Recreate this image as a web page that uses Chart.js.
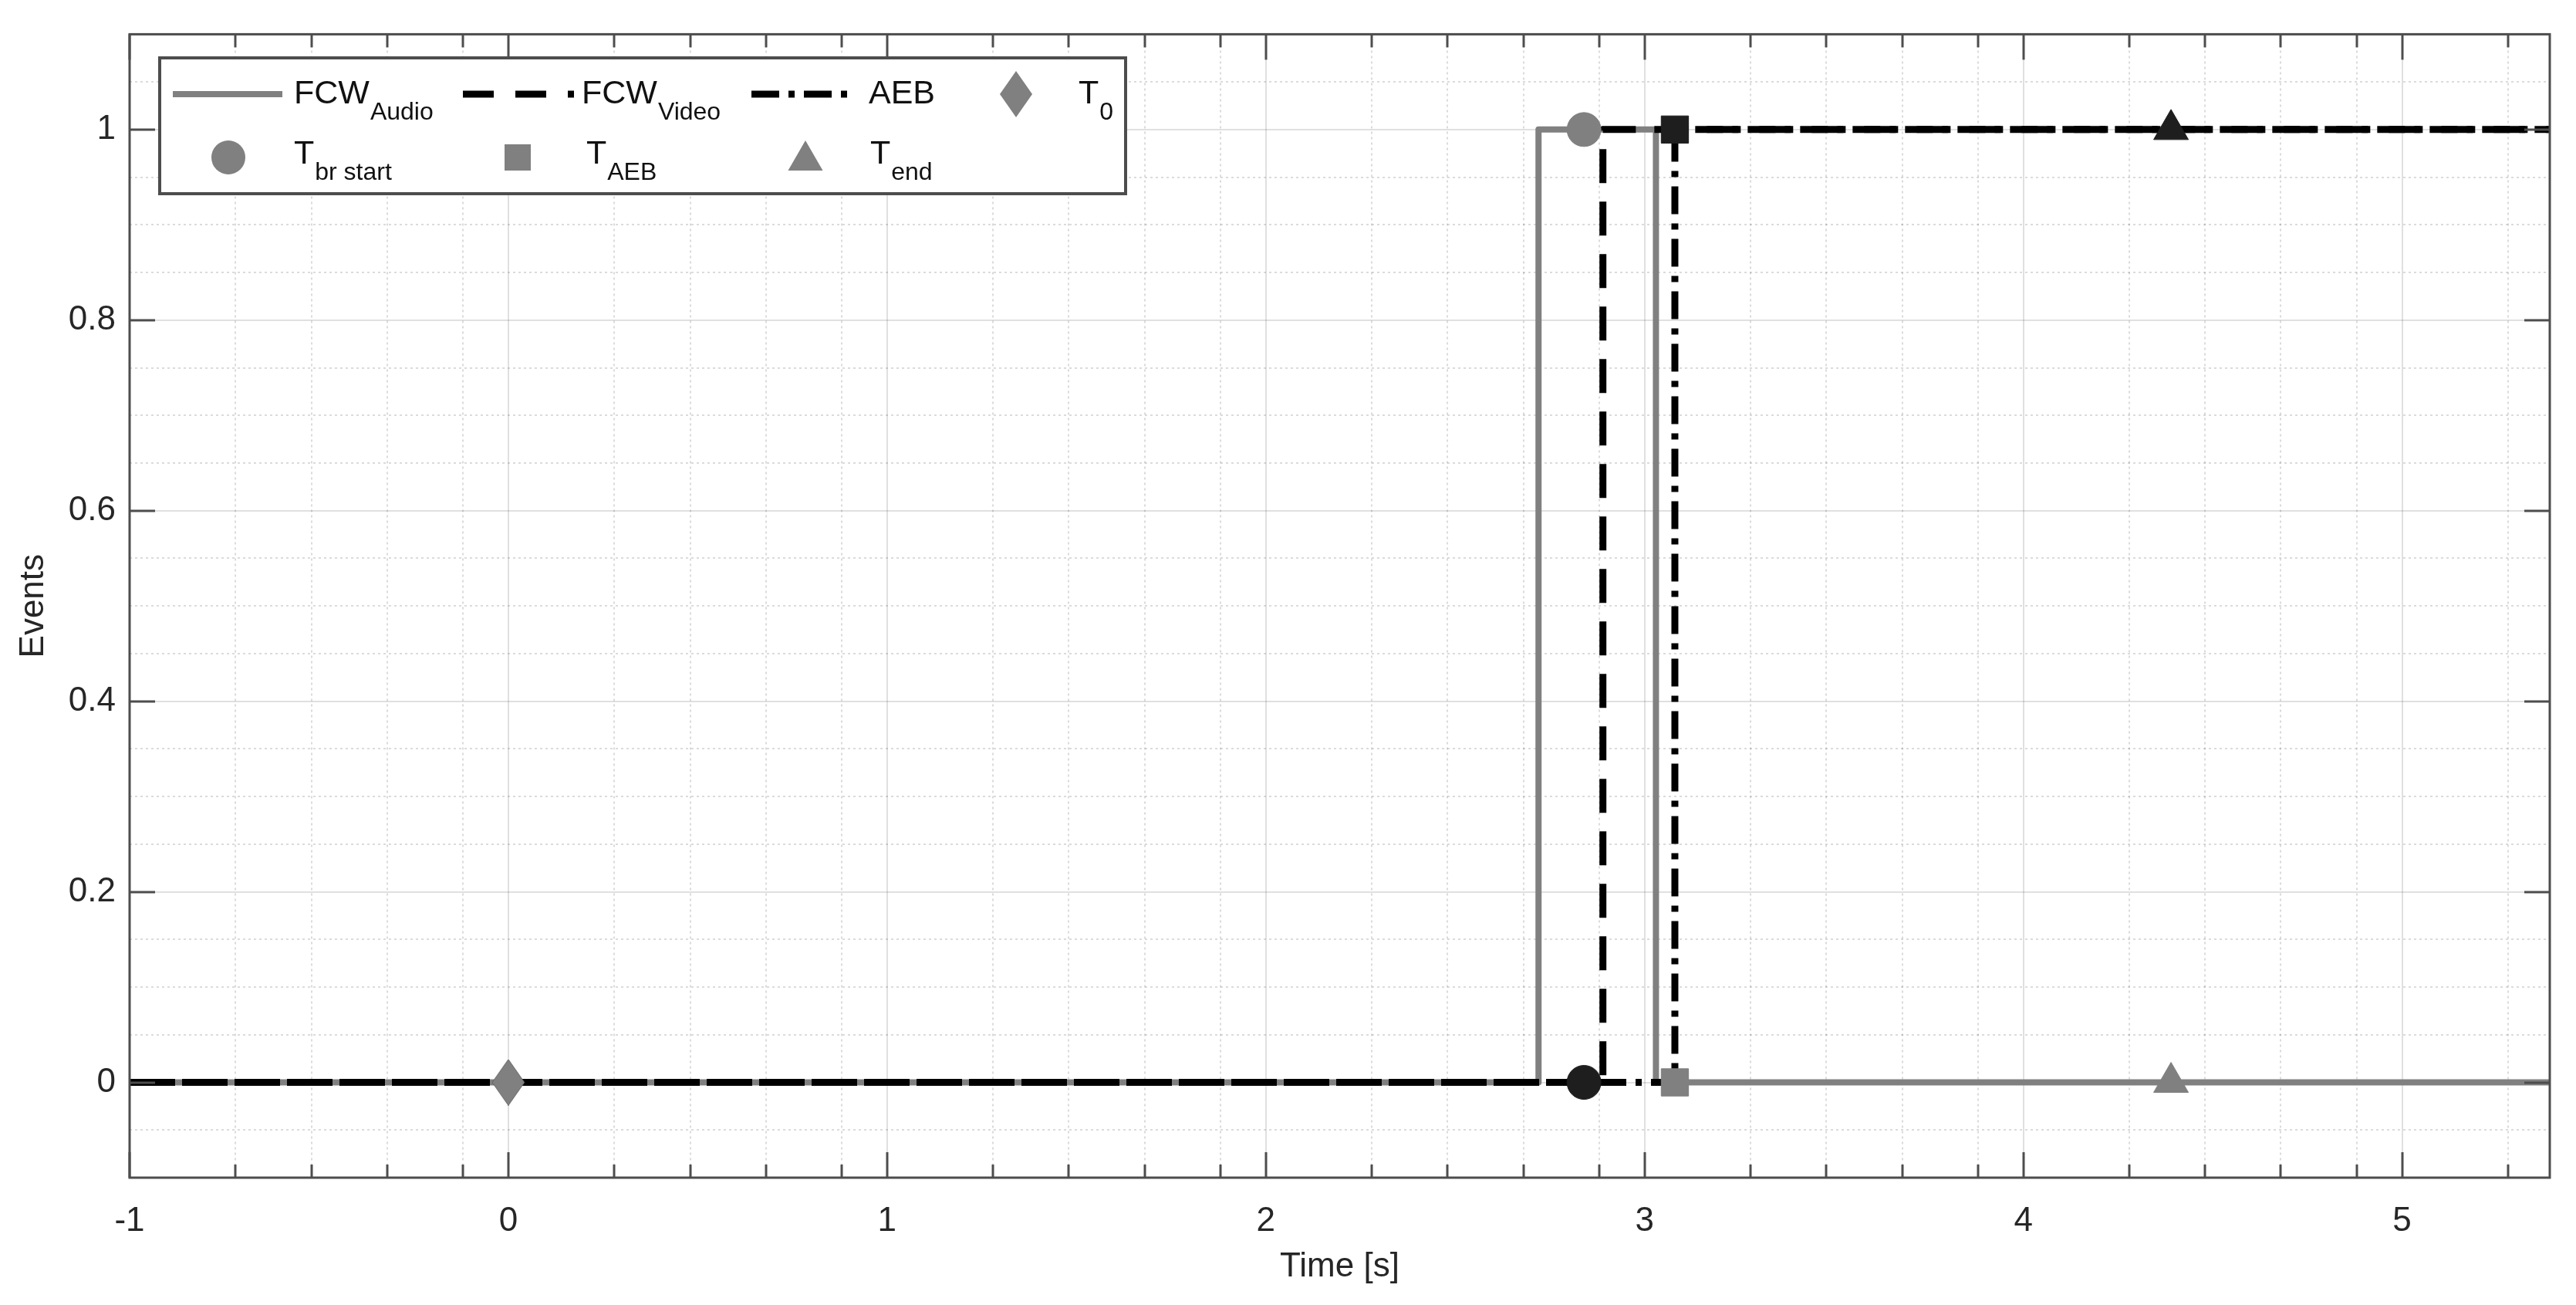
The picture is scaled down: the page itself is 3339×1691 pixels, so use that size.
<!DOCTYPE html>
<html>
<head>
<meta charset="utf-8">
<title>Events</title>
<script src="https://cdn.jsdelivr.net/npm/chart.js@4.4.0/dist/chart.umd.min.js"></script>
<style>
  html, body { margin: 0; padding: 0; background: #fff; }
  #chart { display: block; }
</style>
</head>
<body>
<canvas id="chart" width="3339" height="1691" style="width:3339px;height:1691px"></canvas>
<script>
// axes
const xMin = -1;
const xMax = 5.39;
const yMin = -0.1;
const yMax = 1.1;
const xTickValues = [-1, 0, 1, 2, 3, 4, 5];
const xTickLabels = ["-1", "0", "1", "2", "3", "4", "5"];
const yTickValues = [0, 0.2, 0.4, 0.6, 0.8, 1];
const yTickLabels = ["0", "0.2", "0.4", "0.6", "0.8", "1"];

// signals (time of each change, value after it)
const audioTimes = [-1, 2.72, 3.03, 5.39];
const audioValues = [0, 1, 0, 0];
const videoTimes = [-1, 2.89, 5.39];
const videoValues = [0, 1, 1];
const aebTimes = [-1, 3.08, 5.39];
const aebValues = [0, 1, 1];

// events
const eventTimes = [0, 2.84, 3.08, 4.39];
const eventOnAudio = [0, 1, 0, 0];
const eventOnVideo = [0, 0, 1, 1];

// legend texts
const legendMain = ["FCW", "FCW", "AEB", "T", "T", "T", "T"];
const legendSub = ["Audio", "Video", "", "0", "br start", "AEB", "end"];

const GRAY = "#808080";
const DARK = "#1e1e1e";
const FONT = "'Liberation Sans', Arial, Helvetica, sans-serif";

Chart.defaults.font.family = FONT;

function makeDiamond(color) {
  const c = document.createElement("canvas");
  c.width = 42;
  c.height = 60;
  const g = c.getContext("2d");
  g.fillStyle = color;
  g.beginPath();
  g.moveTo(21, 0);
  g.lineTo(42, 30);
  g.lineTo(21, 60);
  g.lineTo(0, 30);
  g.closePath();
  g.fill();
  return c;
}
const diamondGray = makeDiamond(GRAY);
const diamondDark = makeDiamond(DARK);

const toPoints = (xs, ys) => xs.map((x, i) => ({ x: x, y: ys[i] }));

const eventStylesGray = [diamondGray, "circle", "rect", "triangle"];
const eventStylesDark = [diamondDark, "circle", "rect", "triangle"];
const eventRadius = [30, 22, 25, 26];

// minor grid / ticks
const xMinor = [];
for (let n = -1; n <= 5; n++) {
  [0.28, 0.48, 0.68, 0.88].forEach((d) => {
    const v = +(n + d).toFixed(2);
    if (v < xMax) xMinor.push(v);
  });
}
const yMinor = [];
for (let k = -1; k <= 21; k++) {
  if (k % 4 !== 0) yMinor.push(+(k * 0.05).toFixed(2));
}

function line(ctx, x1, y1, x2, y2) {
  ctx.beginPath();
  ctx.moveTo(x1, y1);
  ctx.lineTo(x2, y2);
  ctx.stroke();
}

function drawMarker(ctx, style, x, y, color) {
  ctx.fillStyle = color;
  ctx.beginPath();
  if (style === "circle") {
    ctx.arc(x, y, 22, 0, Math.PI * 2);
  } else if (style === "rect") {
    ctx.rect(x - 17, y - 17, 34, 34);
  } else if (style === "triangle") {
    ctx.moveTo(x, y - 26);
    ctx.lineTo(x + 22.5, y + 13);
    ctx.lineTo(x - 22.5, y + 13);
    ctx.closePath();
  } else {
    ctx.moveTo(x, y - 30);
    ctx.lineTo(x + 21, y);
    ctx.lineTo(x, y + 30);
    ctx.lineTo(x - 21, y);
    ctx.closePath();
  }
  ctx.fill();
}

function subText(ctx, x, base, main, sub) {
  ctx.fillStyle = "#111";
  ctx.font = "43px " + FONT;
  ctx.textBaseline = "alphabetic";
  ctx.textAlign = "left";
  ctx.fillText(main, x, base);
  if (sub) {
    const w = ctx.measureText(main).width;
    ctx.font = "32px " + FONT;
    ctx.fillText(sub, x + w + 1, base + 21);
  }
}

const axesPlugin = {
  id: "matlabAxes",
  beforeDatasetsDraw(chart) {
    const { ctx, chartArea: a, scales } = chart;
    ctx.save();
    ctx.strokeStyle = "rgba(0,0,0,0.14)";
    ctx.lineWidth = 2;
    ctx.setLineDash([3, 4]);
    xMinor.forEach((v) => {
      const px = Math.round(scales.x.getPixelForValue(v));
      line(ctx, px, a.top, px, a.bottom);
    });
    yMinor.forEach((v) => {
      const py = Math.round(scales.y.getPixelForValue(v));
      line(ctx, a.left, py, a.right, py);
    });
    ctx.restore();
  },
  afterDatasetsDraw(chart) {
    const { ctx, chartArea: a, scales } = chart;
    ctx.save();
    ctx.strokeStyle = "#4d4d4d";
    ctx.lineWidth = 3;
    xTickValues.forEach((v) => {
      const px = Math.round(scales.x.getPixelForValue(v));
      line(ctx, px, a.bottom, px, a.bottom - 33);
      line(ctx, px, a.top, px, a.top + 33);
    });
    xMinor.forEach((v) => {
      const px = Math.round(scales.x.getPixelForValue(v));
      line(ctx, px, a.bottom, px, a.bottom - 17);
      line(ctx, px, a.top, px, a.top + 17);
    });
    yTickValues.forEach((v) => {
      const py = Math.round(scales.y.getPixelForValue(v));
      line(ctx, a.left, py, a.left + 33, py);
      line(ctx, a.right, py, a.right - 33, py);
    });
    ctx.strokeRect(a.left, a.top, a.right - a.left, a.bottom - a.top);
    ctx.restore();
  },
  afterDraw(chart) {
    const ctx = chart.ctx;
    ctx.save();
    // legend box
    ctx.fillStyle = "#fff";
    ctx.fillRect(207, 75, 1252, 176);
    ctx.strokeStyle = "#4d4d4d";
    ctx.lineWidth = 4;
    ctx.strokeRect(207, 75, 1252, 176);

    const r1 = 122;
    const r2 = 204;
    ctx.lineWidth = 8;
    ctx.lineCap = "butt";
    ctx.strokeStyle = GRAY;
    line(ctx, 224, r1, 366, r1);
    ctx.strokeStyle = "#000";
    ctx.lineWidth = 9;
    ctx.setLineDash([40, 28]);
    line(ctx, 600, r1, 744, r1);
    ctx.setLineDash([36, 12, 8, 12]);
    line(ctx, 974, r1, 1108, r1);
    ctx.setLineDash([]);

    drawMarker(ctx, "diamond", 1317, r1, GRAY);
    drawMarker(ctx, "circle", 296, r2, GRAY);
    drawMarker(ctx, "rect", 671, r2, GRAY);
    drawMarker(ctx, "triangle", 1044, r2 + 4, GRAY);

    const textX = [381, 754, 1126, 1398, 381, 760, 1128];
    const textY = [r1 + 12, r1 + 12, r1 + 12, r1 + 12, r2 + 8, r2 + 8, r2 + 8];
    legendMain.forEach((m, i) => subText(ctx, textX[i], textY[i], m, legendSub[i]));
    ctx.restore();
  },
};

const chart = new Chart(document.getElementById("chart").getContext("2d"), {
  type: "line",
  data: {
    datasets: [
      {
        label: "events audio",
        data: toPoints(eventTimes, eventOnAudio),
        showLine: false,
        pointStyle: eventStylesGray,
        pointRadius: eventRadius,
        pointBackgroundColor: GRAY,
        pointBorderColor: GRAY,
        pointBorderWidth: 1,
      },
      {
        label: "events video",
        data: toPoints(eventTimes, eventOnVideo),
        showLine: false,
        pointStyle: eventStylesDark,
        pointRadius: eventRadius,
        pointBackgroundColor: DARK,
        pointBorderColor: DARK,
        pointBorderWidth: 1,
      },
      {
        label: "AEB",
        data: toPoints(aebTimes, aebValues),
        stepped: "before",
        borderColor: "#000",
        borderWidth: 9,
        borderDash: [36, 12, 8, 12],
        borderJoinStyle: "round",
        pointRadius: 0,
        fill: false,
      },
      {
        label: "FCW Video",
        data: toPoints(videoTimes, videoValues),
        stepped: "before",
        borderColor: "#000",
        borderWidth: 9,
        borderDash: [44, 24],
        borderDashOffset: 53,
        borderJoinStyle: "round",
        pointRadius: 0,
        fill: false,
      },
      {
        label: "FCW Audio",
        data: toPoints(audioTimes, audioValues),
        stepped: "before",
        borderColor: GRAY,
        borderWidth: 8,
        borderJoinStyle: "round",
        pointRadius: 0,
        fill: false,
      },
    ],
  },
  options: {
    responsive: false,
    animation: false,
    events: [],
    layout: { padding: { left: 0, top: 39, right: 34, bottom: 0 } },
    plugins: { legend: { display: false }, tooltip: { enabled: false } },
    scales: {
      x: {
        type: "linear",
        min: xMin,
        max: xMax,
        afterBuildTicks: (s) => { s.ticks = xTickValues.map((v) => ({ value: v })); },
        afterFit: (s) => { s.height = 165; },
        grid: { color: "rgba(0,0,0,0.12)", lineWidth: 2, drawTicks: false },
        border: { display: false },
        ticks: {
          autoSkip: false,
          maxRotation: 0,
          padding: 30,
          color: "#262626",
          font: { size: 44 },
          callback: (v) => xTickLabels[xTickValues.indexOf(v)],
        },
        title: {
          display: true,
          text: "Time [s]",
          color: "#262626",
          font: { size: 44 },
          padding: { top: 0, bottom: 23 },
        },
      },
      y: {
        type: "linear",
        min: yMin,
        max: yMax,
        afterBuildTicks: (s) => { s.ticks = yTickValues.map((v) => ({ value: v })); },
        afterFit: (s) => { s.width = 168; },
        grid: { color: "rgba(0,0,0,0.12)", lineWidth: 2, drawTicks: false },
        border: { display: false },
        ticks: {
          autoSkip: false,
          padding: 18,
          color: "#262626",
          font: { size: 44 },
          callback: (v) => yTickLabels[yTickValues.indexOf(v)],
        },
        title: {
          display: true,
          text: "Events",
          color: "#262626",
          font: { size: 44 },
          padding: { top: 17, bottom: 0 },
        },
      },
    },
  },
  plugins: [axesPlugin],
});
</script>
</body>
</html>
